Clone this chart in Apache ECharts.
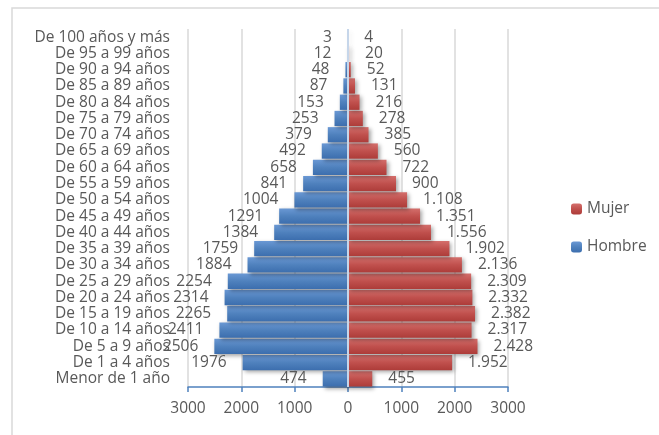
<!DOCTYPE html>
<html>
<head>
<meta charset="utf-8">
<script src="https://cdn.jsdelivr.net/npm/echarts@6/dist/echarts.min.js"></script>
<style>
  html, body { margin: 0; padding: 0; background: #fff; }
  #chart { width: 659px; height: 435px; }
</style>
</head>
<body>
<div id="chart"></div>
<script>
// grupos de edad, de abajo hacia arriba
const categorias = [
  'Menor de 1 año', 'De 1 a 4 años', 'De 5 a 9 años', 'De 10 a 14 años',
  'De 15 a 19 años', 'De 20 a 24 años', 'De 25 a 29 años', 'De 30 a 34 años',
  'De 35 a 39 años', 'De 40 a 44 años', 'De 45 a 49 años', 'De 50 a 54 años',
  'De 55 a 59 años', 'De 60 a 64 años', 'De 65 a 69 años', 'De 70 a 74 años',
  'De 75 a 79 años', 'De 80 a 84 años', 'De 85 a 89 años', 'De 90 a 94 años',
  'De 95 a 99 años', 'De 100 años y más',
];
const hombre = [474, 1976, 2506, 2411, 2265, 2314, 2254, 1884, 1759, 1384, 1291,
  1004, 841, 658, 492, 379, 253, 153, 87, 48, 12, 3];
const mujer = [455, 1952, 2428, 2317, 2382, 2332, 2309, 2136, 1902, 1556, 1351,
  1108, 900, 722, 560, 385, 278, 216, 131, 52, 20, 4];
const ticksX = [-3000, -2000, -1000, 0, 1000, 2000, 3000];

const FONT = 'Open Sans';
const TXT = '#595959';
const FS = 15.5;

const chart = echarts.init(document.getElementById('chart'));

const option = {
  animation: false,
  textStyle: { fontFamily: FONT },
  graphic: [{
    type: 'rect',
    shape: { x: 12, y: 8, width: 700, height: 500 },
    style: { fill: 'none', stroke: '#d9d9d9', lineWidth: 1.5 },
    silent: true,
  }],
  grid: {
    left: 188,
    right: 151,
    top: 29,
    bottom: 48,
  },
  legend: {
    orient: 'vertical',
    left: 566,
    top: 196,
    itemWidth: 11,
    itemHeight: 11,
    itemGap: 22,
    data: ['Mujer', 'Hombre'],
    textStyle: { color: TXT, fontSize: FS, fontFamily: FONT },
  },
  xAxis: {
    type: 'value',
    min: ticksX[0],
    max: ticksX[ticksX.length - 1],
    interval: 1000,
    axisLine: { show: true, lineStyle: { color: '#4f81bd', width: 1.5 } },
    axisTick: { show: true, length: 5, lineStyle: { color: '#4f81bd', width: 1.5 } },
    axisLabel: {
      color: TXT,
      fontSize: FS,
      margin: 14,
      formatter: (v) => String(Math.abs(v)),
    },
    splitLine: { show: true, lineStyle: { color: '#d9d9d9', width: 1.5 } },
  },
  yAxis: {
    type: 'category',
    data: categorias,
    axisLine: { show: false },
    axisTick: { show: false },
    axisLabel: { color: TXT, fontSize: FS, margin: 18, interval: 0 },
  },
  series: [
    {
      name: 'Hombre',
      type: 'bar',
      stack: 'p',
      barCategoryGap: '6%',
      data: hombre.map((v) => -v),
      itemStyle: {
        color: new echarts.graphic.LinearGradient(0, 0, 0, 1, [
          { offset: 0, color: '#6a98d4' },
          { offset: 0.5, color: '#4f81bd' },
          { offset: 1, color: '#3c6eae' },
        ]),
        shadowColor: 'rgba(0,0,0,0.35)',
        shadowBlur: 4,
        shadowOffsetX: 2,
        shadowOffsetY: 2,
      },
      label: {
        show: true,
        position: 'left',
        distance: 16,
        color: TXT,
        fontSize: FS,
        fontFamily: FONT,
        formatter: (p) => String(Math.abs(p.value)),
      },
      markLine: {
        silent: true,
        symbol: 'none',
        label: { show: false },
        lineStyle: { color: '#c6d6ea', width: 2, type: 'solid' },
        data: [{ xAxis: 0 }],
        z: 10,
      },
    },
    {
      name: 'Mujer',
      type: 'bar',
      stack: 'p',
      barCategoryGap: '6%',
      data: mujer,
      itemStyle: {
        color: new echarts.graphic.LinearGradient(0, 0, 0, 1, [
          { offset: 0, color: '#d46f6c' },
          { offset: 0.5, color: '#c0504d' },
          { offset: 1, color: '#ad3c39' },
        ]),
        shadowColor: 'rgba(0,0,0,0.35)',
        shadowBlur: 4,
        shadowOffsetX: 2,
        shadowOffsetY: 2,
      },
      label: {
        show: true,
        position: 'right',
        distance: 16,
        color: TXT,
        fontSize: FS,
        fontFamily: FONT,
        formatter: (p) => String(p.value).replace(/\B(?=(\d{3})+(?!\d))/g, '.'),
      },
    },
  ],
};

chart.setOption(option);
</script>
</body>
</html>
